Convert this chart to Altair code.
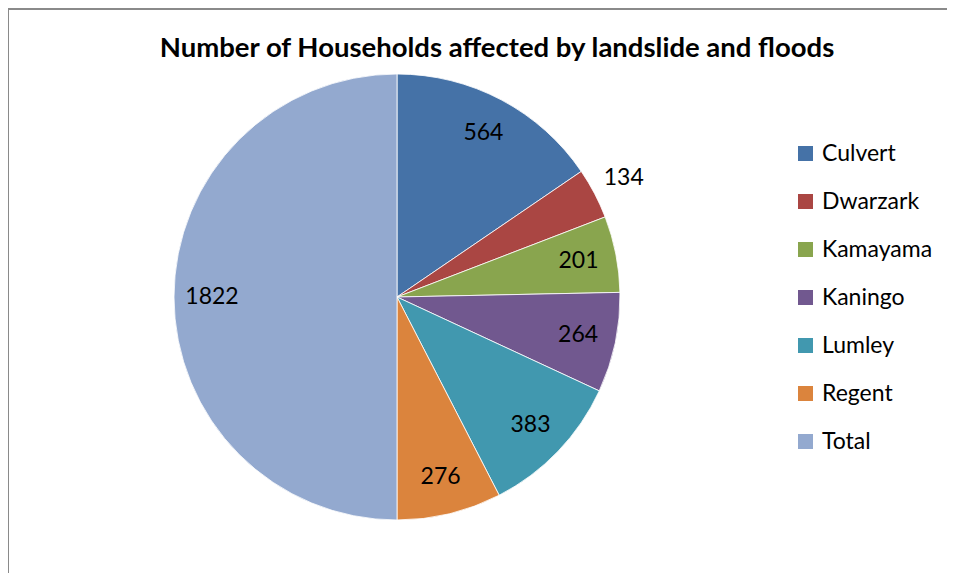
import altair as alt
import pandas as pd

title_text = "Number of Households affected by landslide and floods"
names = ["Culvert", "Dwarzark", "Kamayama", "Kaningo", "Lumley", "Regent", "Total"]
values = [564, 134, 201, 264, 383, 276, 1822]
colors = ["#4572A7", "#AA4643", "#89A54E", "#71588F", "#4198AF", "#DB843D", "#93A9CF"]
outside_label = "Dwarzark"

df = pd.DataFrame({"name": names, "value": values, "idx": list(range(len(names)))})

FONT = "Lato"
CX, CY = 389, 289
W, H = 939, 565

arcs = alt.Chart(df).mark_arc(radius=223, stroke="white", strokeWidth=0.8).encode(
    theta=alt.Theta("value:Q", stack=True),
    color=alt.Color(
        "name:N",
        scale=alt.Scale(domain=names, range=colors),
        legend=alt.Legend(
            title=None,
            orient="none",
            legendX=786,
            legendY=134,
            symbolType="square",
            symbolSize=225,
            symbolStrokeWidth=0,
            labelFont=FONT,
            labelFontSize=23,
            labelColor="#000000",
            labelOffset=5,
            rowPadding=24,
            padding=0,
        ),
    ),
    order=alt.Order("idx:Q"),
    x=alt.value(CX),
    y=alt.value(CY),
)

lab_base = (
    alt.Chart(df)
    .transform_window(cum="sum(value)", sort=[alt.SortField("idx")], frame=[None, 0])
    .transform_joinaggregate(tot="sum(value)")
    .transform_calculate(tm="(datum.cum - datum.value/2)/datum.tot*2*PI")
)

inner = lab_base.transform_filter(alt.datum.name != outside_label).mark_text(
    radius=185, font=FONT, fontSize=23, color="#000000", baseline="middle", align="center"
).encode(
    theta=alt.Theta("tm:Q", scale=None),
    text="value:Q",
    x=alt.value(CX),
    y=alt.value(CY),
)

outer = lab_base.transform_filter(alt.datum.name == outside_label).mark_text(
    radius=256, font=FONT, fontSize=23, color="#000000", baseline="middle", align="center"
).encode(
    theta=alt.Theta("tm:Q", scale=None),
    text="value:Q",
    x=alt.value(CX),
    y=alt.value(CY),
)

title = alt.Chart(pd.DataFrame({"t": [title_text]})).mark_text(
    font=FONT, fontSize=27.5, fontWeight="bold", color="#000000", baseline="middle", align="center"
).encode(text="t:N", x=alt.value(489), y=alt.value(41))

border_data = alt.Data(values=[{"k": 1}])
left_rule = alt.Chart(border_data).mark_rule(color="#8a8a8a", strokeWidth=2).encode(
    x=alt.value(0), y=alt.value(1), y2=alt.value(H)
)
top_rule = alt.Chart(border_data).mark_rule(color="#8a8a8a", strokeWidth=2).encode(
    x=alt.value(0), x2=alt.value(W), y=alt.value(1)
)

chart = (
    alt.layer(arcs, inner, outer, title, left_rule, top_rule)
    .resolve_scale(theta="independent")
    .properties(width=W, height=H, autosize=alt.AutoSizeParams(type="none"), padding=0, background="white")
    .configure_view(stroke=None)
)

chart.save("out.html", embed_options={"renderer": "svg", "actions": False})
